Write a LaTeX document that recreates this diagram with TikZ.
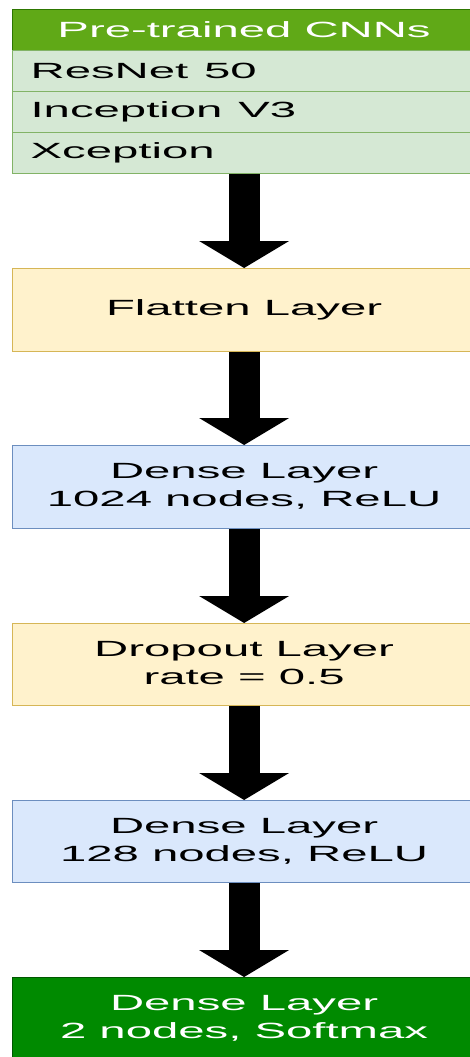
\documentclass[tikz,border=0pt]{standalone}
\usepackage{fontspec}
\setmainfont{Liberation Sans}
\usepackage{graphicx}
\usetikzlibrary{arrows.meta}
\usepackage{xcolor}

\definecolor{headfill}{HTML}{60A917}
\definecolor{headline}{HTML}{2D7600}
\definecolor{rowfill}{HTML}{D5E8D4}
\definecolor{rowline}{HTML}{82B366}
\definecolor{yelfill}{HTML}{FFF2CC}
\definecolor{yelline}{HTML}{D6B656}
\definecolor{blufill}{HTML}{DAE8FC}
\definecolor{bluline}{HTML}{6C8EBF}
\definecolor{outfill}{HTML}{008A00}
\definecolor{outline}{HTML}{005700}

% stretched text, as in the picture
\newcommand{\wide}[1]{\scalebox{2.15}[1]{#1}}
\newcommand{\twolines}[2]{\wide{\begin{tabular}{@{}c@{}}#1\\#2\end{tabular}}}

\begin{document}
\begin{tikzpicture}[x=1pt,y=-1pt,
		box/.style={rectangle,anchor=north west,minimum width=463pt,inner sep=0pt,
			line width=1.2pt,font=\fontsize{22}{28}\selectfont},
		headbox/.style={box,minimum height=41pt,fill=headfill,draw=headline,text=white},
		rowbox/.style={box,minimum height=41pt,fill=rowfill,draw=rowline,
			text width=427pt,inner xsep=18pt,align=left},
		yelbox/.style={box,minimum height=#1,fill=yelfill,draw=yelline},
		blubox/.style={box,minimum height=#1,fill=blufill,draw=bluline},
		outbox/.style={box,minimum height=83pt,fill=outfill,draw=outline,text=white},
		flow/.style={line width=31pt,-{Triangle[length=27pt,width=90pt,line width=0pt]}}]
		
		\useasboundingbox (0,0) rectangle (469,1057);
		
		% Pre-trained networks
		\node[headbox] (head) at (12,9) {\wide{Pre-trained CNNs}};
		\node[rowbox] (cnn1) at (12,50) {\wide{ResNet 50}};
		\node[rowbox] (cnn2) at (12,91) {\wide{Inception V3}};
		\node[rowbox] (cnn3) at (12,132) {\wide{Xception}};
		
		% Layers
		\node[yelbox=83pt] (flat) at (12,268) {\wide{Flatten Layer}};
		\node[blubox=83pt] (dense1) at (12,445) {\twolines{Dense Layer}{1024 nodes, ReLU}};
		\node[yelbox=82pt] (drop) at (12,623) {\twolines{Dropout Layer}{rate = 0.5}};
		\node[blubox=82pt] (dense2) at (12,800) {\twolines{Dense Layer}{128 nodes, ReLU}};
		\node[outbox] (out) at (12,977) {\twolines{Dense Layer}{2 nodes, Softmax}};
		
		% Flow
		\draw[flow] (cnn3.south) -- (flat.north);
		\draw[flow] (flat.south) -- (dense1.north);
		\draw[flow] (dense1.south) -- (drop.north);
		\draw[flow] (drop.south) -- (dense2.north);
		\draw[flow] (dense2.south) -- (out.north);
		
	\end{tikzpicture}
\end{document}
